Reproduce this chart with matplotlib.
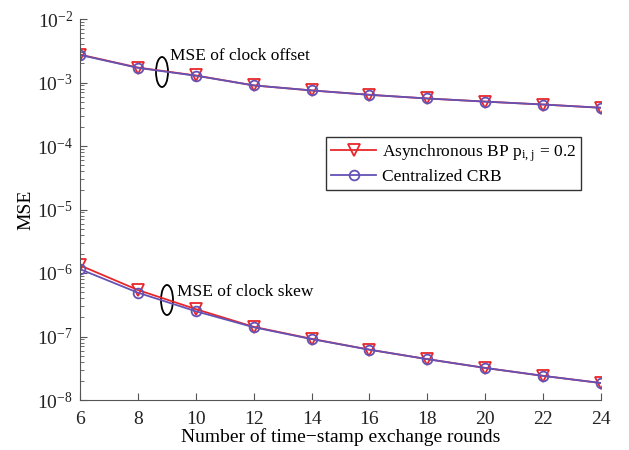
import numpy as np
import matplotlib.pyplot as plt
from matplotlib.patches import Ellipse

plt.rcParams['font.family'] = ['Liberation Serif', 'DejaVu Serif']
plt.rcParams['mathtext.fontset'] = 'stix'

# === Data ===
rounds = [6, 8, 10, 12, 14, 16, 18, 20, 22, 24]
bp_offset = [2.75e-3, 1.72e-3, 1.29e-3, 9.0e-4, 7.5e-4, 6.4e-4, 5.6e-4, 5.0e-4, 4.5e-4, 4.0e-4]
crb_offset = [2.72e-3, 1.70e-3, 1.28e-3, 9.0e-4, 7.5e-4, 6.4e-4, 5.6e-4, 5.0e-4, 4.5e-4, 4.0e-4]
bp_skew = [1.32e-6, 5.4e-7, 2.7e-7, 1.42e-7, 9.2e-8, 6.2e-8, 4.4e-8, 3.2e-8, 2.4e-8, 1.85e-8]
crb_skew = [1.15e-6, 4.9e-7, 2.5e-7, 1.40e-7, 9.1e-8, 6.2e-8, 4.4e-8, 3.2e-8, 2.4e-8, 1.85e-8]

red = '#e8262a'
blue = '#6452b4'

fig = plt.figure(figsize=(6.29, 4.5), dpi=100)
ax = fig.add_axes([80 / 629, 50 / 450, 521 / 629, 381 / 450])

ax.semilogy(rounds, bp_offset, color=red, lw=1.3, marker='v', ms=8, mfc='none', mew=1.3,
            label=r'Asynchronous BP p$_{\mathregular{i,\,j}}$ = 0.2')
ax.semilogy(rounds, crb_offset, color=blue, lw=1.3, marker='o', ms=7, mfc='none', mew=1.3,
            label='Centralized CRB')
ax.semilogy(rounds, bp_skew, color=red, lw=1.3, marker='v', ms=8, mfc='none', mew=1.3)
ax.semilogy(rounds, crb_skew, color=blue, lw=1.3, marker='o', ms=7, mfc='none', mew=1.3)

ax.set_xlim(6, 24)
ax.set_ylim(1e-8, 1e-2)
ax.set_xticks(rounds)
ax.set_yticks([1e-8, 1e-7, 1e-6, 1e-5, 1e-4, 1e-3, 1e-2])

for s in ['top', 'right']:
    ax.spines[s].set_visible(False)
for s in ['left', 'bottom']:
    ax.spines[s].set_color('#555555')
ax.tick_params(which='both', direction='in', labelsize=14, colors='#555555', labelcolor='#222222')
ax.tick_params(which='major', length=5)
ax.tick_params(which='minor', length=3)
ax.tick_params(axis='x', pad=8)
ax.tick_params(axis='y', pad=5)

ax.set_xlabel('Number of time\u2212stamp exchange rounds', fontsize=14, labelpad=0)
ax.set_ylabel('MSE', fontsize=14, labelpad=2)

# ellipse annotations
ax.add_patch(Ellipse((162 / 629, 1 - 72 / 450), 12 / 629, 30 / 450, transform=fig.transFigure,
                     fill=False, lw=1.3, color='black'))
fig.text(170 / 629, 1 - 56 / 450, 'MSE of clock offset', fontsize=12.5, va='center')
ax.add_patch(Ellipse((167 / 629, 1 - 300 / 450), 12 / 629, 30 / 450, transform=fig.transFigure,
                     fill=False, lw=1.3, color='black'))
fig.text(177 / 629, 1 - 292 / 450, 'MSE of clock skew', fontsize=12.5, va='center')

leg = ax.legend(loc='upper left', bbox_to_anchor=(326 / 629, 1 - 137 / 450), bbox_transform=fig.transFigure,
                fontsize=12.5, frameon=True, fancybox=False, edgecolor='black', handlelength=2.6,
                borderpad=0.3, labelspacing=0.3, handletextpad=0.3, borderaxespad=0)
leg.get_frame().set_linewidth(1.0)

fig.savefig('out.png', dpi=100)
